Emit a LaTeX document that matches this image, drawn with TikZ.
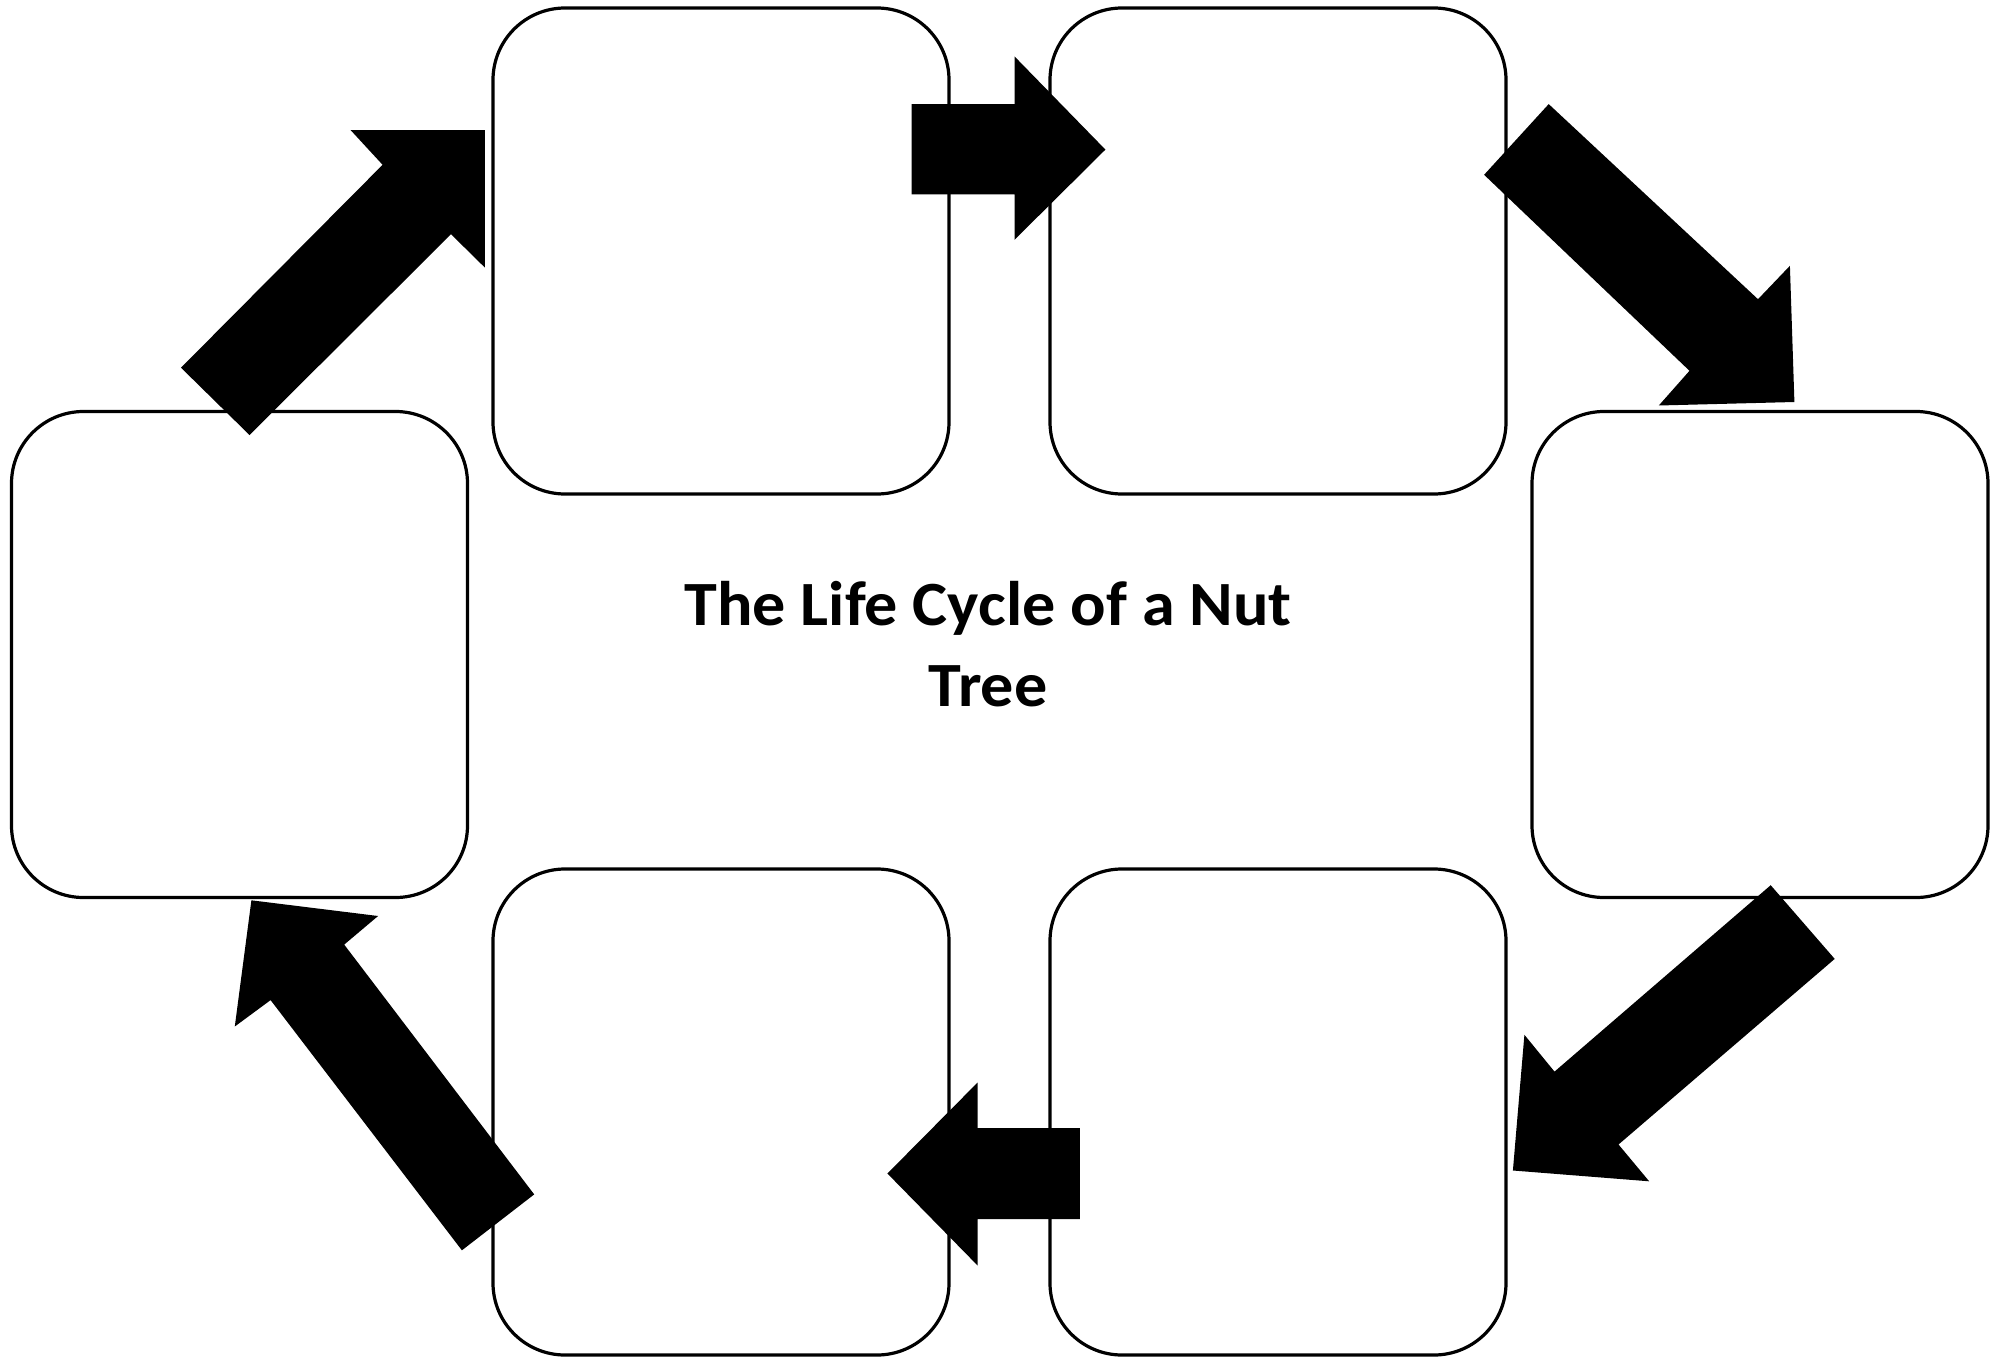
\documentclass[tikz,border=0pt]{standalone}
\usepackage{graphicx}
\usepackage{fontspec}
\setmainfont{Carlito}
\begin{document}
\begin{tikzpicture}[x=1pt,y=-1pt,
  stagebox/.style={draw=black, fill=white, line width=3.2pt, rounded corners=72pt,
    minimum width=456pt, minimum height=486pt, inner sep=0pt, outer sep=0pt},
  blockarrow/.style={fill=black, draw=none},
  titletext/.style={font=\fontsize{63}{80}\selectfont\bfseries, anchor=base, inner sep=0pt}]
\useasboundingbox (0,0) rectangle (2006,1357);
% boxes
\node[stagebox] (tl) at (721,251) {};
\node[stagebox] (tr) at (1278,251) {};
\node[stagebox] (r)  at (1760,654.5) {};
\node[stagebox] (br) at (1278,1112) {};
\node[stagebox] (bl) at (721,1112) {};
\node[stagebox] (l)  at (239.5,654.5) {};
% arrows
% L -> TL
\fill[blockarrow] (181,367.7) -- (382.6,164.8) -- (350.6,130.1) -- (484.9,130.1) -- (484.9,267.6) -- (451,234.2) -- (249.5,435) -- cycle;
% TL -> TR
\fill[blockarrow] (911.6,104) -- (1014.5,104) -- (1014.5,56.4) -- (1105.4,149.6) -- (1014.5,239.8) -- (1014.5,194.3) -- (911.6,194.3) -- cycle;
% TR -> R
\fill[blockarrow] (1548.7,104.1) -- (1758,299.2) -- (1789.9,265.8) -- (1794.4,402) -- (1658.8,405.5) -- (1689.5,370.8) -- (1484.1,174.8) -- cycle;
% R -> BR
\fill[blockarrow] (1770.7,885.2) -- (1834.7,958.9) -- (1618.5,1144.5) -- (1649.2,1181.3) -- (1512.9,1170.5) -- (1524.4,1034.8) -- (1554.5,1071.6) -- cycle;
% BR -> BL
\fill[blockarrow] (1079.8,1128) -- (977.6,1128) -- (977.6,1082.5) -- (887.4,1173.5) -- (977.6,1265.5) -- (977.6,1219) -- (1079.8,1219) -- cycle;
% BL -> L
\fill[blockarrow] (534.2,1194.4) -- (344.2,944.6) -- (378.1,916) -- (251.4,900.3) -- (234.8,1026.5) -- (270.6,1000.1) -- (461.9,1250.3) -- cycle;
% title
\node[titletext] (title1) at (988,625) {\scalebox{1.05}[1]{The Life Cycle of a Nut}};
\node[titletext] (title2) at (988,706) {\scalebox{1.05}[1]{Tree}};
\end{tikzpicture}
\end{document}
